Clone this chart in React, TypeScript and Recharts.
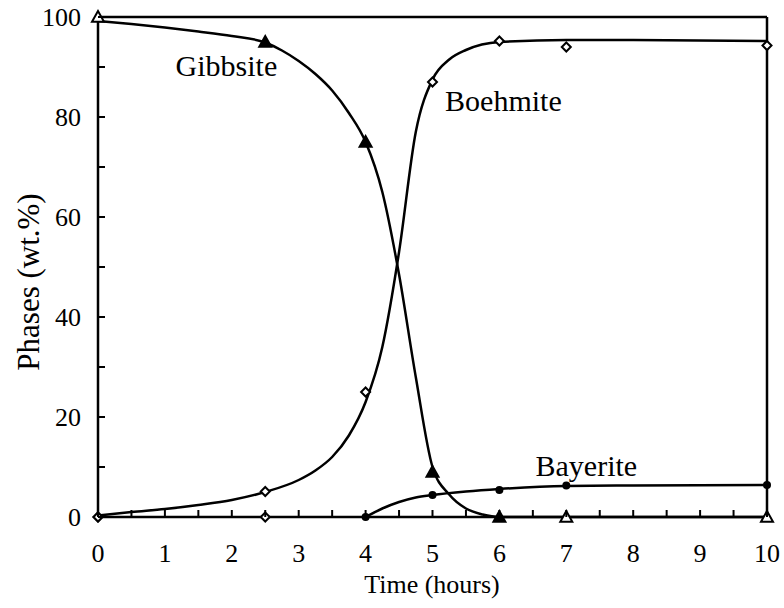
import {
  ComposedChart,
  Line,
  Scatter,
  XAxis,
  YAxis,
  ReferenceLine,
  ReferenceDot,
} from "recharts";

const FONT = '"Liberation Serif", "Times New Roman", serif';

// tick positions (minor ticks every 0.5 h / 10 %)
const xTicks = [0, 0.5, 1, 1.5, 2, 2.5, 3, 3.5, 4, 4.5, 5, 5.5, 6, 6.5, 7, 7.5, 8, 8.5, 9, 9.5, 10];
const yTicks = [0, 10, 20, 30, 40, 50, 60, 70, 80, 90, 100];

// measured points
const gibbsiteFilled = [
  { t: 2.5, v: 95 },
  { t: 4, v: 75 },
  { t: 5, v: 9 },
  { t: 6, v: 0 },
];
const gibbsiteOpen = [
  { t: 0, v: 100 },
  { t: 7, v: 0 },
  { t: 10, v: 0 },
];
const boehmitePoints = [
  { t: 0, v: 0 },
  { t: 2.5, v: 5.1 },
  { t: 4, v: 25 },
  { t: 5, v: 87 },
  { t: 6, v: 95.2 },
  { t: 7, v: 94 },
  { t: 10, v: 94.3 },
];
const bayeritePoints = [
  { t: 4, v: 0 },
  { t: 5, v: 4.4 },
  { t: 6, v: 5.4 },
  { t: 7, v: 6.3 },
  { t: 10, v: 6.4 },
];
const bayeriteZero = [
  { t: 0, v: 0 },
  { t: 2.5, v: 0 },
];

// fitted curves
const gibbsiteCurveT = [0, 0.5, 1, 1.5, 2, 2.5, 2.75, 3, 3.25, 3.5, 3.75, 4, 4.25, 4.5, 4.75, 5, 5.25, 5.5, 5.75, 6, 10];
const gibbsiteCurveV = [99.2, 98.6, 97.9, 97.1, 96.2, 94.9, 93.3, 91.2, 88.6, 85.3, 80.8, 75, 65, 48.5, 28, 10, 4.5, 1.7, 0.5, 0, 0];
const boehmiteCurveT = [0, 0.5, 1, 1.5, 2, 2.5, 3, 3.25, 3.5, 3.75, 4, 4.25, 4.5, 4.75, 5, 5.25, 5.5, 6, 7, 8, 10];
const boehmiteCurveV = [0.3, 1, 1.6, 2.4, 3.4, 5, 7.4, 9.3, 12, 16.3, 23, 34, 53, 77, 87.5, 91.5, 93.4, 95, 95.4, 95.4, 95.2];
const bayeriteCurveT = [4, 4.25, 4.5, 4.75, 5, 5.5, 6, 7, 8, 10];
const bayeriteCurveV = [0, 1.7, 3, 3.9, 4.4, 5.1, 5.6, 6.2, 6.3, 6.4];

const zip = (ts: number[], vs: number[]) => ts.map((t, i) => ({ t, v: vs[i] }));

function XTick({ x, y, payload }: any) {
  const major = Number.isInteger(payload.value);
  return (
    <g>
      <line x1={x} x2={x} y1={y} y2={y - 7} stroke="#000" strokeWidth={2} />
      {major && (
        <text x={x} y={y + 36} dy="0.35em" textAnchor="middle" fontSize={26} style={{ fontFamily: FONT }} fill="#000">
          {payload.value}
        </text>
      )}
    </g>
  );
}

function YTick({ x, y, payload }: any) {
  const major = payload.value % 20 === 0;
  return (
    <g>
      <line x1={x} x2={x + 7} y1={y} y2={y} stroke="#000" strokeWidth={2} />
      {major && (
        <text x={x - 17} y={y} dy="0.35em" textAnchor="end" fontSize={26} style={{ fontFamily: FONT }} fill="#000">
          {payload.value}
        </text>
      )}
    </g>
  );
}

function Triangle({ cx, cy, open }: any) {
  const s = 6;
  return (
    <polygon
      points={`${cx},${cy - s} ${cx - s},${cy + s * 0.8} ${cx + s},${cy + s * 0.8}`}
      fill={open ? "#fff" : "#000"}
      stroke="#000"
      strokeWidth={2}
    />
  );
}

function Diamond({ cx, cy }: any) {
  const s = 4.5;
  return (
    <polygon
      points={`${cx},${cy - s} ${cx + s},${cy} ${cx},${cy + s} ${cx - s},${cy}`}
      fill="#fff"
      stroke="#000"
      strokeWidth={2}
    />
  );
}

function Dot({ cx, cy }: any) {
  return <circle cx={cx} cy={cy} r={4} fill="#000" />;
}

function curveLabel(text: string) {
  return {
    value: text,
    position: "center" as const,
    fontSize: 30,
    style: { fontFamily: FONT },
    fill: "#000",
  };
}

export default function App() {
  return (
    <div style={{ position: "absolute", left: 0, top: 0, background: "#fff", fontFamily: FONT }}>
      <ComposedChart
        width={784}
        height={608}
        margin={{ top: 17, right: 17, bottom: 0, left: 0 }}
      >
        <XAxis
          dataKey="t"
          type="number"
          domain={[0, 10]}
          ticks={xTicks}
          interval={0}
          height={91}
          tickSize={0}
          tickMargin={0}
          tickLine={false}
          axisLine={{ stroke: "#000", strokeWidth: 2.5 }}
          tick={<XTick />}
          label={{
            content: () => (
              <text x={432} y={593} textAnchor="middle" fontSize={26} style={{ fontFamily: FONT }} fill="#000">
                Time (hours)
              </text>
            ),
          }}
        />
        <YAxis
          dataKey="v"
          type="number"
          domain={[0, 100]}
          ticks={yTicks}
          interval={0}
          width={98}
          tickSize={0}
          tickMargin={0}
          tickLine={false}
          axisLine={{ stroke: "#000", strokeWidth: 2.5 }}
          tick={<YTick />}
          label={{
            content: () => (
              <text
                x={28}
                y={282}
                transform="rotate(-90, 28, 282)"
                textAnchor="middle"
                dominantBaseline="central"
                fontSize={31}
                style={{ fontFamily: FONT }}
                fill="#000"
              >
                Phases (wt.%)
              </text>
            ),
          }}
        />
        <ReferenceLine y={100} stroke="#000" strokeWidth={2.5} />
        <ReferenceLine x={10} stroke="#000" strokeWidth={2.5} />

        <Line data={zip(gibbsiteCurveT, gibbsiteCurveV)} dataKey="v" type="monotone" stroke="#000" strokeWidth={2.5} dot={false} activeDot={false} isAnimationActive={false} />
        <Line data={zip(boehmiteCurveT, boehmiteCurveV)} dataKey="v" type="monotone" stroke="#000" strokeWidth={2.5} dot={false} activeDot={false} isAnimationActive={false} />
        <Line data={zip(bayeriteCurveT, bayeriteCurveV)} dataKey="v" type="monotone" stroke="#000" strokeWidth={2.5} dot={false} activeDot={false} isAnimationActive={false} />

        <Scatter data={boehmitePoints} dataKey="v" shape={<Diamond />} isAnimationActive={false} />
        <Scatter data={bayeriteZero} dataKey="v" shape={<Diamond />} isAnimationActive={false} />
        <Scatter data={bayeritePoints} dataKey="v" shape={<Dot />} isAnimationActive={false} />
        <Scatter data={gibbsiteFilled} dataKey="v" shape={<Triangle />} isAnimationActive={false} />
        <Scatter data={gibbsiteOpen} dataKey="v" shape={<Triangle open />} isAnimationActive={false} />

        <ReferenceDot x={1.92} y={90.3} r={0} fill="none" stroke="none" label={curveLabel("Gibbsite")} />
        <ReferenceDot x={6.06} y={83.4} r={0} fill="none" stroke="none" label={curveLabel("Boehmite")} />
        <ReferenceDot x={7.3} y={10.4} r={0} fill="none" stroke="none" label={curveLabel("Bayerite")} />
      </ComposedChart>
    </div>
  );
}
